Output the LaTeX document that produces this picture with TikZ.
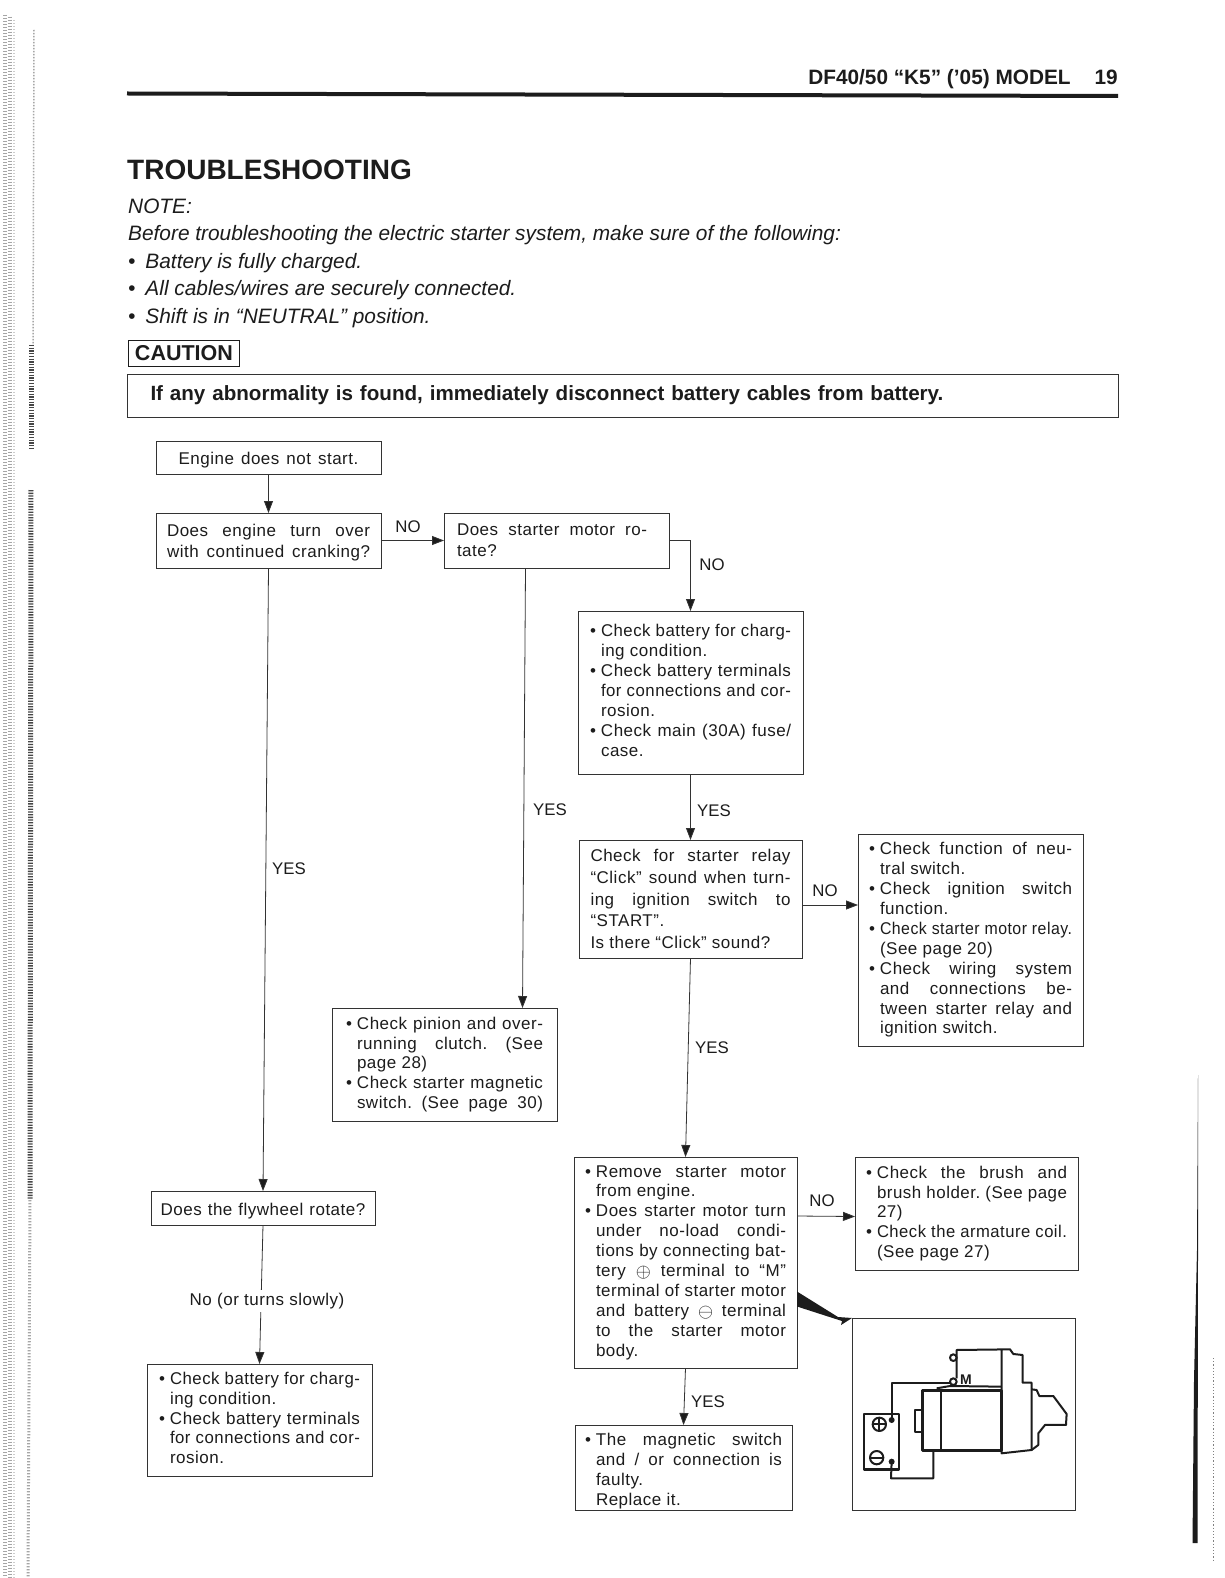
\documentclass[tikz,border=0pt]{standalone}
\usepackage{fontspec}
\usepackage{graphicx}
\setmainfont{Liberation Sans}
\newfontfamily\boxfont[LetterSpace=3]{Liberation Sans}
\usetikzlibrary{arrows.meta}
\definecolor{ink}{HTML}{1C1C1C}
\definecolor{wire}{HTML}{333333}
\newlength\indw \setlength\indw{11pt}
\newlength\tgtw
\newsavebox\tmpb
\newcommand\fitline[1]{\sbox\tmpb{#1}\ifdim\wd\tmpb>\tgtw\relax\resizebox{\tgtw}{\height}{\usebox\tmpb}\else\makebox[\tgtw][s]{\spaceskip=.278em plus 1fil\relax #1}\fi}
% bullet + justified, bullet + natural, indent + justified, indent + natural
\newcommand\BJ[1]{\setlength\tgtw{\dimexpr\linewidth-\indw\relax}\makebox[\indw][l]{\textbullet}\fitline{#1}}
\newcommand\BN[1]{\makebox[\indw][l]{\textbullet}#1}
\newcommand\CJ[1]{\setlength\tgtw{\dimexpr\linewidth-\indw\relax}\hspace*{\indw}\fitline{#1}}
\newcommand\CN[1]{\hspace*{\indw}#1}
\newcommand\PJ[1]{\setlength\tgtw{\linewidth}\fitline{#1}}
\newcommand\PW[2]{\setlength\tgtw{#1}\fitline{#2}}
\newcommand\cplus{\raisebox{-0.8pt}{\scalebox{1.12}{$\oplus$}}}
\newcommand\cminus{\raisebox{-0.8pt}{\scalebox{1.12}{$\ominus$}}}
\tikzset{
  fb/.style n args={3}{draw=wire,line width=0.9pt,anchor=north west,outer sep=0pt,inner ysep=0pt,
     text=ink,align=left,font=\boxfont\fontsize{17}{19.9}\selectfont,
     execute at begin node={\spaceskip=0pt \xspaceskip=0pt \frenchspacing},
     text width=#1,inner xsep=#2,minimum height=#3},
  lab/.style={text=ink,font=\fontsize{16.8}{20}\selectfont,inner sep=0pt},
  arr/.style={draw=wire,line width=0.8pt,-{Triangle[length=12pt,width=9pt,fill=ink]}},
  note/.style={anchor=west,inner sep=0pt,text=ink,font=\fontsize{20.85}{24}\selectfont\itshape},
  mot/.style={draw=ink,line width=2pt,line join=round},
  strip/.style={line width=#1,gray!70,dash pattern=on 1.3pt off 1.7pt},
}
\begin{document}
\begin{tikzpicture}[x=1pt,y=-1pt]
\useasboundingbox (0,0) rectangle (1224,1578);
\fill[white] (0,0) rectangle (1224,1578);
% scan margin
\draw[strip=3.5pt] (5,15) -- (5,1578);
\draw[strip=3.5pt,dash phase=1.4pt] (10,15) -- (10,1578);
\draw[strip=2.5pt,gray!40] (14,20) -- (14,1578);
\draw[strip=1.5pt,gray!70] (34,30) -- (33,345);
\draw[line width=5pt,gray!55!black,dash pattern=on 1.3pt off 1.4pt] (31,345) -- (31,450);
\draw[line width=5pt,gray!55!black,dash pattern=on 1.3pt off 1.4pt] (31,490) -- (30,1200);
\draw[line width=3pt,gray!70,dash pattern=on 1.3pt off 1.7pt] (30,1200) -- (28,1578);
\fill[ink] (1198,1075) -- (1198,1250) -- (1197.5,1543) -- (1192.5,1543) -- (1194,1380) -- (1197,1250) -- cycle;
\draw[gray,line width=1pt,dash pattern=on 1.2pt off 2pt] (1213,1358) -- (1213,1560);
% header
\node[anchor=east,inner sep=0pt,text=ink,font=\fontsize{20.8}{24}\selectfont\bfseries] (hdr) at (1118,79.5) {DF40/50 “K5” (’05) MODEL\hspace{24pt}19};
\coordinate (rl) at (127,93.5); \coordinate (rr) at (1118,96);
\draw[ink,line width=4pt] (rl) -- (rr);
\node[anchor=west,inner sep=0pt,text=ink,font=\fontsize{28}{32}\selectfont\bfseries] (title) at (127,170) {TROUBLESHOOTING};
\node[note] (n1) at (128,206) {NOTE:};
\node[note] (n2) at (128,235) {Before troubleshooting the electric starter system, make sure of the following:};
\node[note] (n3) at (128,263) {•\hspace{10pt}Battery is fully charged.};
\node[note] (n4) at (128,290.5) {•\hspace{10pt}All cables/wires are securely connected.};
\node[note] (n5) at (128,318.5) {•\hspace{10pt}Shift is in “NEUTRAL” position.};
\node[draw=ink,line width=0.9pt,anchor=north west,minimum width=111pt,minimum height=26pt,inner sep=0pt,text=ink,font=\fontsize{21.5}{24}\selectfont\bfseries] (caution) at (128,339.5) {CAUTION};
\node[draw=wire,line width=1pt,anchor=north west,minimum width=991pt,minimum height=43pt,text width=945pt,inner xsep=23pt,inner ysep=0pt,text=ink,font=\fontsize{20.6}{24}\selectfont\bfseries] (alert) at (127,373.5) {If any abnormality is found, immediately disconnect battery cables from battery.};
% flow boxes
\node[fb={225pt}{0pt}{33pt},align=center] (engine) at (156,441) {\rule{0pt}{18pt}Engine does not start.};
\node[fb={203pt}{11pt}{55pt}] (turn) at (156,513) {\rule{0pt}{16pt}\PJ{Does engine turn over}\\[1.5pt]\PJ{with continued cranking?}};
\node[fb={199pt}{13pt}{55pt}] (rot) at (444,513) {\PW{190pt}{Does starter motor ro-}\\[1.5pt]tate?};
\node[fb={201pt}{12pt}{163pt}] (bat) at (578,611) {\BJ{Check battery for charg-}\\\CN{ing condition.}\\\BJ{Check battery terminals}\\\CJ{for connections and cor-}\\\CN{rosion.}\\\BJ{Check main (30A) fuse/}\\\CN{case.}\par\vspace{4pt}};
\node[fb={200pt}{11.5pt}{118pt}] (relay) at (579,840) {\PJ{Check for starter relay}\\[2pt]\PJ{“Click” sound when turn-}\\[2pt]\PJ{ing ignition switch to}\\[2pt]“START”.\\[2pt]Is there “Click” sound?};
\node[fb={203pt}{11pt}{212pt}] (neutral) at (858,834) {\BJ{Check function of neu-}\\\CN{tral switch.}\\\BJ{Check ignition switch}\\\CN{function.}\\\BJ{Check starter motor relay.}\\\CN{(See page 20)}\\\BJ{Check wiring system}\\\CJ{and connections be-}\\\CJ{tween starter relay and}\\\CN{ignition switch.}};
\node[fb={197pt}{14pt}{113pt}] (pinion) at (332,1008) {\BJ{Check pinion and over-}\\\CJ{running clutch. (See}\\\CN{page 28)}\\\BJ{Check starter magnetic}\\\CJ{switch. (See page 30)}};
\node[fb={224pt}{0pt}{34pt},align=center] (fly) at (151,1191) {\rule{0pt}{18pt}Does the flywheel rotate?};
\node[fb={201pt}{12pt}{112pt}] (bat2) at (147,1364) {\BJ{Check battery for charg-}\\\CN{ing condition.}\\\BJ{Check battery terminals}\\\CJ{for connections and cor-}\\\CN{rosion.}\par\vspace{4pt}};
\node[fb={201pt}{11pt}{211pt}] (remove) at (574,1157) {\BJ{Remove starter motor}\\\CN{from engine.}\\\BJ{Does starter motor turn}\\\CJ{under no-load condi-}\\\CJ{tions by connecting bat-}\\\CJ{tery \cplus{} terminal to “M”}\\\CJ{terminal of starter motor}\\\CJ{and battery \cminus{} terminal}\\\CJ{to the starter motor}\\\CN{body.}};
\node[fb={201pt}{11pt}{113pt}] (brush) at (855,1157) {\BJ{Check the brush and}\\\CJ{brush holder. (See page}\\\CN{27)}\\\BJ{Check the armature coil.}\\\CN{(See page 27)}};
\node[fb={197pt}{10pt}{85pt}] (mag) at (575,1425) {\rule{0pt}{20pt}\BJ{The magnetic switch}\\\CJ{and / or connection is}\\\CN{faulty.}\\\CN{Replace it.}};
\node[draw=wire,line width=0.9pt,anchor=north west,minimum width=223pt,minimum height=192pt,inner sep=0pt] (pic) at (852,1318) {};
% connectors
\draw[arr] (engine.south) -- (turn.north);
\draw[arr] (turn.east) -- (rot.west);
\draw[arr] (rot.east) -| (bat.north);
\draw[arr] (bat.south) -- (relay.north);
\draw[arr] (relay.south) -- (remove.north);
\draw[arr] (remove.south) -- (mag.north);
\draw[arr] (turn.south) -- (fly.north);
\draw[arr] (fly.south) -- (bat2.north);
\draw[arr] ([xshift=-31pt]rot.south) -- ([xshift=78pt]pinion.north);
\draw[arr] ([yshift=-6pt]relay.east) -- ([yshift=35pt]neutral.west);
\draw[arr] ([yshift=46.5pt]remove.east) -- ([yshift=-3pt]brush.west);
\fill[ink] ([yshift=-29pt]remove.east) -- ([yshift=-44pt]remove.east) -- ([xshift=-10pt,yshift=-3pt]pic.north west) -- ([xshift=-11pt,yshift=-7pt]pic.north west) -- (pic.north west) -- ([xshift=-14pt,yshift=1pt]pic.north west) -- cycle;
% labels
\node[lab] (l1) at (408,527) {NO};
\node[lab] (l2) at (712,565) {NO};
\node[lab] (l3) at (550,810) {YES};
\node[lab] (l4) at (714,811) {YES};
\node[lab] (l5) at (289,869) {YES};
\node[lab] (l6) at (825,891) {NO};
\node[lab] (l7) at (712,1048) {YES};
\node[lab] (l8) at (822,1201) {NO};
\node[lab] (l9) at (708,1402) {YES};
\node[lab,fill=white,inner sep=3pt,font=\boxfont\fontsize{17}{20}\selectfont] (l10) at (267,1301) {No (or turns slowly)};
% starter motor sketch
\begin{scope}[shift={(780,1260)},x=0.3333pt,y=-0.3333pt]
\draw[mot,line width=2.5pt] (252,462) rectangle (357,628);
\draw[mot] (298,493) circle (20);
\draw[mot] (280,493) -- (316,493) (298,475) -- (298,511);
\draw[mot] (290,593) circle (20);
\draw[mot] (272,593) -- (308,593);
\fill[ink] (335,480) circle (9) (335,605) circle (9);
\draw[mot] (335,480) -- (335,368) -- (510,368);
\draw[mot] (335,605) -- (333,655) -- (460,655) -- (460,575);
\draw[mot,line width=2.5pt] (427,392) rectangle (665,572);
\draw[mot,line width=2.5pt] (483,392) -- (483,572);
\draw[mot] (427,450) -- (405,450) -- (405,515) -- (427,515);
\draw[mot] (470,385) -- (510,378) -- (665,380);
\draw[mot] (520,365) circle (10);
\draw[mot] (520,293) circle (10);
\node[inner sep=0pt,text=ink,font=\fontsize{14}{17}\selectfont\bfseries] (mlab) at (558,360) {M};
\draw[mot] (530,355) -- (530,270) -- (690,268) -- (700,282) -- (728,285) -- (728,368) -- (755,368) -- (755,570) -- (665,580) -- (665,270);
\draw[mot] (755,388) -- (770,390) -- (778,408) -- (820,408) -- (860,462) -- (858,495) -- (795,495) -- (775,520) -- (775,555) -- (755,570);
\end{scope}
\end{tikzpicture}
\end{document}
